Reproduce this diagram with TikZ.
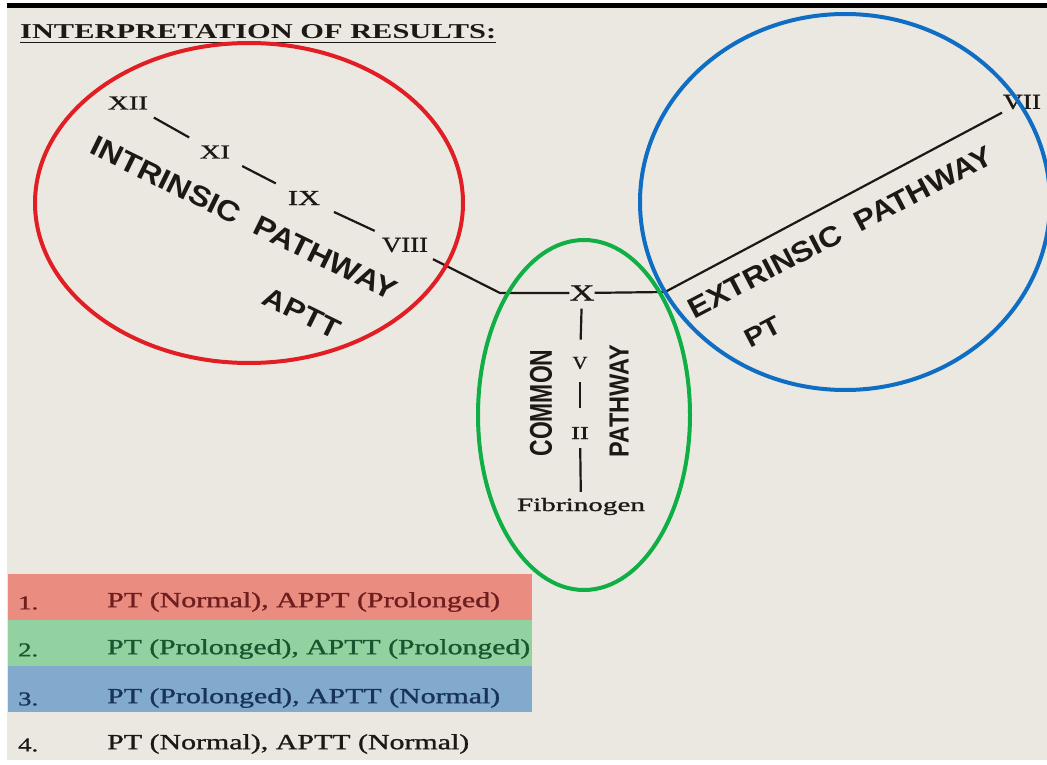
\documentclass[tikz,border=0pt]{standalone}
\usepackage{fontspec}
\setmainfont{Liberation Serif}
\setsansfont{Liberation Sans}
\newfontfamily\heavyserif[FakeBold=1]{Liberation Serif}
\usepackage{graphicx}
\newcommand\fitbox[3]{\resizebox{#1}{#2}{#3}}
\definecolor{paper}{RGB}{235,232,225}
\definecolor{ink}{RGB}{28,24,20}
\definecolor{ringred}{RGB}{225,30,35}
\definecolor{ringgreen}{RGB}{15,175,70}
\definecolor{ringblue}{RGB}{15,110,195}
\definecolor{bandred}{RGB}{234,140,128}
\definecolor{bandgreen}{RGB}{145,210,160}
\definecolor{bandblue}{RGB}{130,170,205}
\definecolor{txtred}{RGB}{110,30,30}
\definecolor{txtgreen}{RGB}{25,85,45}
\definecolor{txtblue}{RGB}{25,50,90}
\begin{document}
\begin{tikzpicture}[x=1pt,y=-1pt,
  lbl/.style={inner sep=0pt, text=ink, font=\heavyserif},
  slbl/.style={inner sep=0pt, text=ink, font=\sffamily\bfseries},
  link/.style={draw=ink, line width=2.2pt},
  ring/.style={line width=4pt},
  band/.style={inner sep=0pt, minimum width=524pt, minimum height=46pt, anchor=north west},
  legtxt/.style={inner sep=0pt, anchor=west, font=\heavyserif}]
\useasboundingbox (0,0) rectangle (1047,765);
\fill[white] (0,0) rectangle (1047,765);
\fill[paper] (7,8) rectangle (1047,760);
\fill[black] (7,3) rectangle (1047,8);

% title
\node[inner sep=0pt, text=ink, anchor=base west, font=\rmfamily\bfseries] (title) at (20,39) {\fitbox{476pt}{14pt}{INTERPRETATION OF RESULTS:}};
\draw[ink, line width=1.5pt] (title.south west) ++(0,3) -- ++(476,0);

% factors
\node[lbl] (xii) at (128,103) {\fitbox{40pt}{13pt}{XII}};
\node[lbl] (xi) at (215,152) {\fitbox{30pt}{13pt}{XI}};
\node[lbl] (ix) at (304,198) {\fitbox{32pt}{14pt}{IX}};
\node[lbl] (viii) at (405,245) {\fitbox{46pt}{14pt}{VIII}};
\coordinate (j1) at (500,293);
\node[lbl] (x) at (582,293) {\fitbox{25pt}{15pt}{X}};
\coordinate (j2) at (665,292);
\node[lbl] (vii) at (1022,102) {\fitbox{38pt}{14pt}{VII}};
\node[lbl] (v) at (580,363) {\fitbox{15pt}{12pt}{V}};
\node[lbl] (ii) at (580,433) {\fitbox{18pt}{12pt}{II}};
\node[lbl, anchor=base] (fib) at (581,511) {\fitbox{128pt}{13pt}{Fibrinogen}};

\draw[link, shorten <=16pt, shorten >=16pt] (xii) -- (xi);
\draw[link, shorten <=16pt, shorten >=16pt] (xi) -- (ix);
\draw[link, shorten <=16pt, shorten >=16pt] (ix) -- (viii);
\draw[link, shorten <=15pt] (viii) -- (j1) -- (x);
\draw[link, shorten >=7pt] (x) -- (j2) -- (vii);
\draw[link, shorten <=8pt, shorten >=17pt] (x) -- (v);
\draw[link, shorten <=13pt, shorten >=19pt] (v) -- (ii);
\draw[link, shorten <=9pt, shorten >=6pt] (ii) -- (fib);

% pathway labels
\node[slbl, rotate=-26] (intr) at (244,218) {\fitbox{337pt}{20pt}{INTRINSIC\ \ PATHWAY}};
\node[slbl, rotate=-26] (aptt) at (302,313) {\fitbox{82pt}{19pt}{APTT}};
\node[slbl, rotate=27.6] (extr) at (840,232) {\fitbox{339pt}{20pt}{EXTRINSIC\ \ PATHWAY}};
\node[slbl, rotate=27.6] (pt) at (763,332) {\fitbox{38pt}{18pt}{PT}};
\node[slbl, rotate=90] (common) at (541,403) {\fitbox{107pt}{22pt}{COMMON}};
\node[slbl, rotate=90] (cpath) at (619,401) {\fitbox{112pt}{19pt}{PATHWAY}};

% rings
\draw[ring, ringred] (249,203) ellipse [x radius=214, y radius=160];
\draw[ring, ringgreen] (584,415) ellipse [x radius=106, y radius=175];
\draw[ring, ringblue] (845,202) ellipse [x radius=205, y radius=188];

% legend
\node[band, fill=bandred] (b1) at (8,574) {};
\node[band, fill=bandgreen] (b2) at (8,620) {};
\node[band, fill=bandblue] (b3) at (8,666) {};
\node[legtxt, text=txtred] (n1) at (18,603) {\fitbox{20pt}{13pt}{1.}};
\node[legtxt, text=txtred] (t1) at (107,602) {\fitbox{393pt}{15pt}{PT (Normal), APPT (Prolonged)}};
\node[legtxt, text=txtgreen] (n2) at (18,650) {\fitbox{20pt}{13pt}{2.}};
\node[legtxt, text=txtgreen] (t2) at (107,649) {\fitbox{423pt}{15pt}{PT (Prolonged), APTT (Prolonged)}};
\node[legtxt, text=txtblue] (n3) at (18,699) {\fitbox{20pt}{13pt}{3.}};
\node[legtxt, text=txtblue] (t3) at (107,698) {\fitbox{393pt}{15pt}{PT (Prolonged), APTT (Normal)}};
\node[legtxt, text=ink] (n4) at (18,745) {\fitbox{20pt}{13pt}{4.}};
\node[legtxt, text=ink] (t4) at (107,744) {\fitbox{362pt}{15pt}{PT (Normal), APTT (Normal)}};
\end{tikzpicture}
\end{document}
